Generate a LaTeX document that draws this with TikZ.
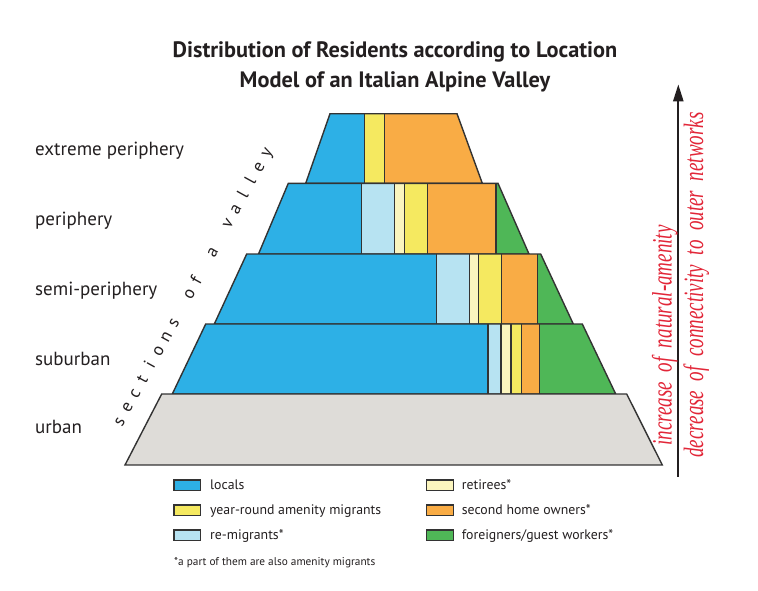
\documentclass[tikz,border=0pt]{standalone}
\usepackage{fontspec}
\usepackage{graphicx}
\setmainfont{PT Sans}
\newfontfamily\redserif{Liberation Serif Italic}[FakeStretch=0.68]
\usetikzlibrary{arrows.meta}
\definecolor{cblue}{RGB}{45,176,230}
\definecolor{clblue}{RGB}{183,227,242}
\definecolor{ccream}{RGB}{251,245,190}
\definecolor{cyellow}{RGB}{245,233,96}
\definecolor{corange}{RGB}{249,172,69}
\definecolor{cgreen}{RGB}{79,183,87}
\definecolor{cgray}{RGB}{222,220,216}
\definecolor{cedge}{RGB}{51,51,51}
\definecolor{ctext}{RGB}{35,31,32}
\definecolor{cred}{RGB}{226,38,56}
\tikzset{
  edge/.style={draw=cedge, line width=1.4pt, line join=miter},
  swatch/.style={draw=cedge, line width=1.1pt},
  levellabel/.style={anchor=base west, font=\fontsize{19}{21}\selectfont, text=ctext, inner sep=0pt},
  legendtext/.style={anchor=base west, font=\fontsize{13.8}{15}\selectfont, text=ctext, inner sep=0pt},
  titletext/.style={anchor=base, font=\fontsize{22.3}{24}\selectfont\bfseries, text=ctext, inner sep=0pt},
  sectletter/.style={anchor=base, rotate=61, font=\fontsize{17.5}{18}\selectfont, text=ctext, inner sep=0pt},
  redtext/.style={anchor=base, rotate=90, text=cred, inner sep=0pt},
}
% #1 yt, #2 yb, #3 TL, #4 BL, #5 TR, #6 BR, #7 segments xa/xb/colour, #8 dividers
\newcommand{\drawtier}[8]{%
  \begin{scope}
    \clip (#3,#1) -- (#5,#1) -- (#6,#2) -- (#4,#2) -- cycle;
    \foreach \xa/\xb/\cc in {#7} { \fill[\cc] (\xa,#1) rectangle (\xb,#2); }
  \end{scope}
  \foreach \xd in {#8} { \draw[edge] (\xd,#1) -- (\xd,#2); }
  \draw[edge] (#3,#1) -- (#5,#1) -- (#6,#2) -- (#4,#2) -- cycle;
}
\begin{document}
\begin{tikzpicture}[x=1pt,y=-1pt]
\useasboundingbox[fill=white] (0,0) rectangle (758,590);

% title
\node[titletext] (title1) at (395,57) {Distribution of Residents according to Location};
\node[titletext] (title2) at (395,87) {Model of an Italian Alpine Valley};

% tiers
\drawtier{113.7}{183.3}{330}{305.7}{457}{482.3}%
  {100/364.7/cblue,364.7/384.7/cyellow,384.7/700/corange}{364.7,384.7}
\drawtier{183.3}{254}{288.3}{258.5}{498}{529}%
  {100/361.7/cblue,361.7/394.3/clblue,394.3/404.5/ccream,404.5/427.5/cyellow,427.5/496/corange,496/700/cgreen}%
  {361.7,394.3,404.5,427.5,496}
\drawtier{254}{324}{246.7}{214.3}{540.7}{573.3}%
  {100/436.3/cblue,436.3/469.3/clblue,469.3/478.7/ccream,478.7/501.7/cyellow,501.7/537.3/corange,537.3/700/cgreen}%
  {436.3,469.3,478.7,501.7,537.3}
\drawtier{324}{394}{205.7}{172.3}{582.3}{615.7}%
  {100/488/cblue,488/501/clblue,501/511/ccream,511/521.7/cyellow,521.7/539.7/corange,539.7/700/cgreen}%
  {488,501,511,521.7,539.7}
\drawtier{394}{465}{161.7}{125}{626.7}{662.3}%
  {100/700/cgray}{}

% level labels
\node[levellabel] (lab1) at (35,155) {extreme periphery};
\node[levellabel] (lab2) at (35,225) {periphery};
\node[levellabel] (lab3) at (35,295) {semi-periphery};
\node[levellabel] (lab4) at (35,365) {suburban};
\node[levellabel] (lab5) at (35,433) {urban};

% sections of a valley
\foreach \ch/\i in {s/0,e/1,c/2,t/3,i/4,o/5,n/6,s/7,o/9,f/10,a/12,v/14,a/15,l/16,l/17,e/18,y/19}
  \node[sectletter] at ({123.9+\i*7.74},{424.2-\i*14.16}) {\ch};

% arrow
\coordinate (arrbot) at (678.3,476.7);
\coordinate (arrtop) at (678.3,84.3);
\draw[line width=2.3pt, draw=ctext, -{Triangle[length=17pt,width=10pt]}] (arrbot) -- (arrtop);

\node[redtext] (inc) at (671.5,335.5) {\redserif\fontsize{28}{30}\selectfont increase\ \ of\ \ natural-amenity};
\node[redtext] (dec) at (703,285) {\redserif\fontsize{28}{30}\selectfont decrease\ \ of\ \ connectivity\ \ to\ \ outer\ \ networks};

% legend
\foreach \y/\cc/\txt in {480/cblue/locals,505/cyellow/year-round amenity migrants,530/clblue/re-migrants*}{
  \draw[swatch, fill=\cc] (174,\y) rectangle (200.7,\y+10.7);
  \node[legendtext] at (210,\y+9.3) {\txt};
}
\foreach \y/\cc/\txt in {480/ccream/retirees*,505/corange/second home owners*,530/cgreen/{foreigners/guest workers*}}{
  \draw[swatch, fill=\cc] (426.7,\y) rectangle (453.3,\y+10.7);
  \node[legendtext] at (461.7,\y+9.3) {\txt};
}
\node[anchor=base west, inner sep=0pt, font=\fontsize{11.3}{13}\selectfont, text=ctext] (foot) at (174,565) {*a part of them are also amenity migrants};
\end{tikzpicture}
\end{document}
